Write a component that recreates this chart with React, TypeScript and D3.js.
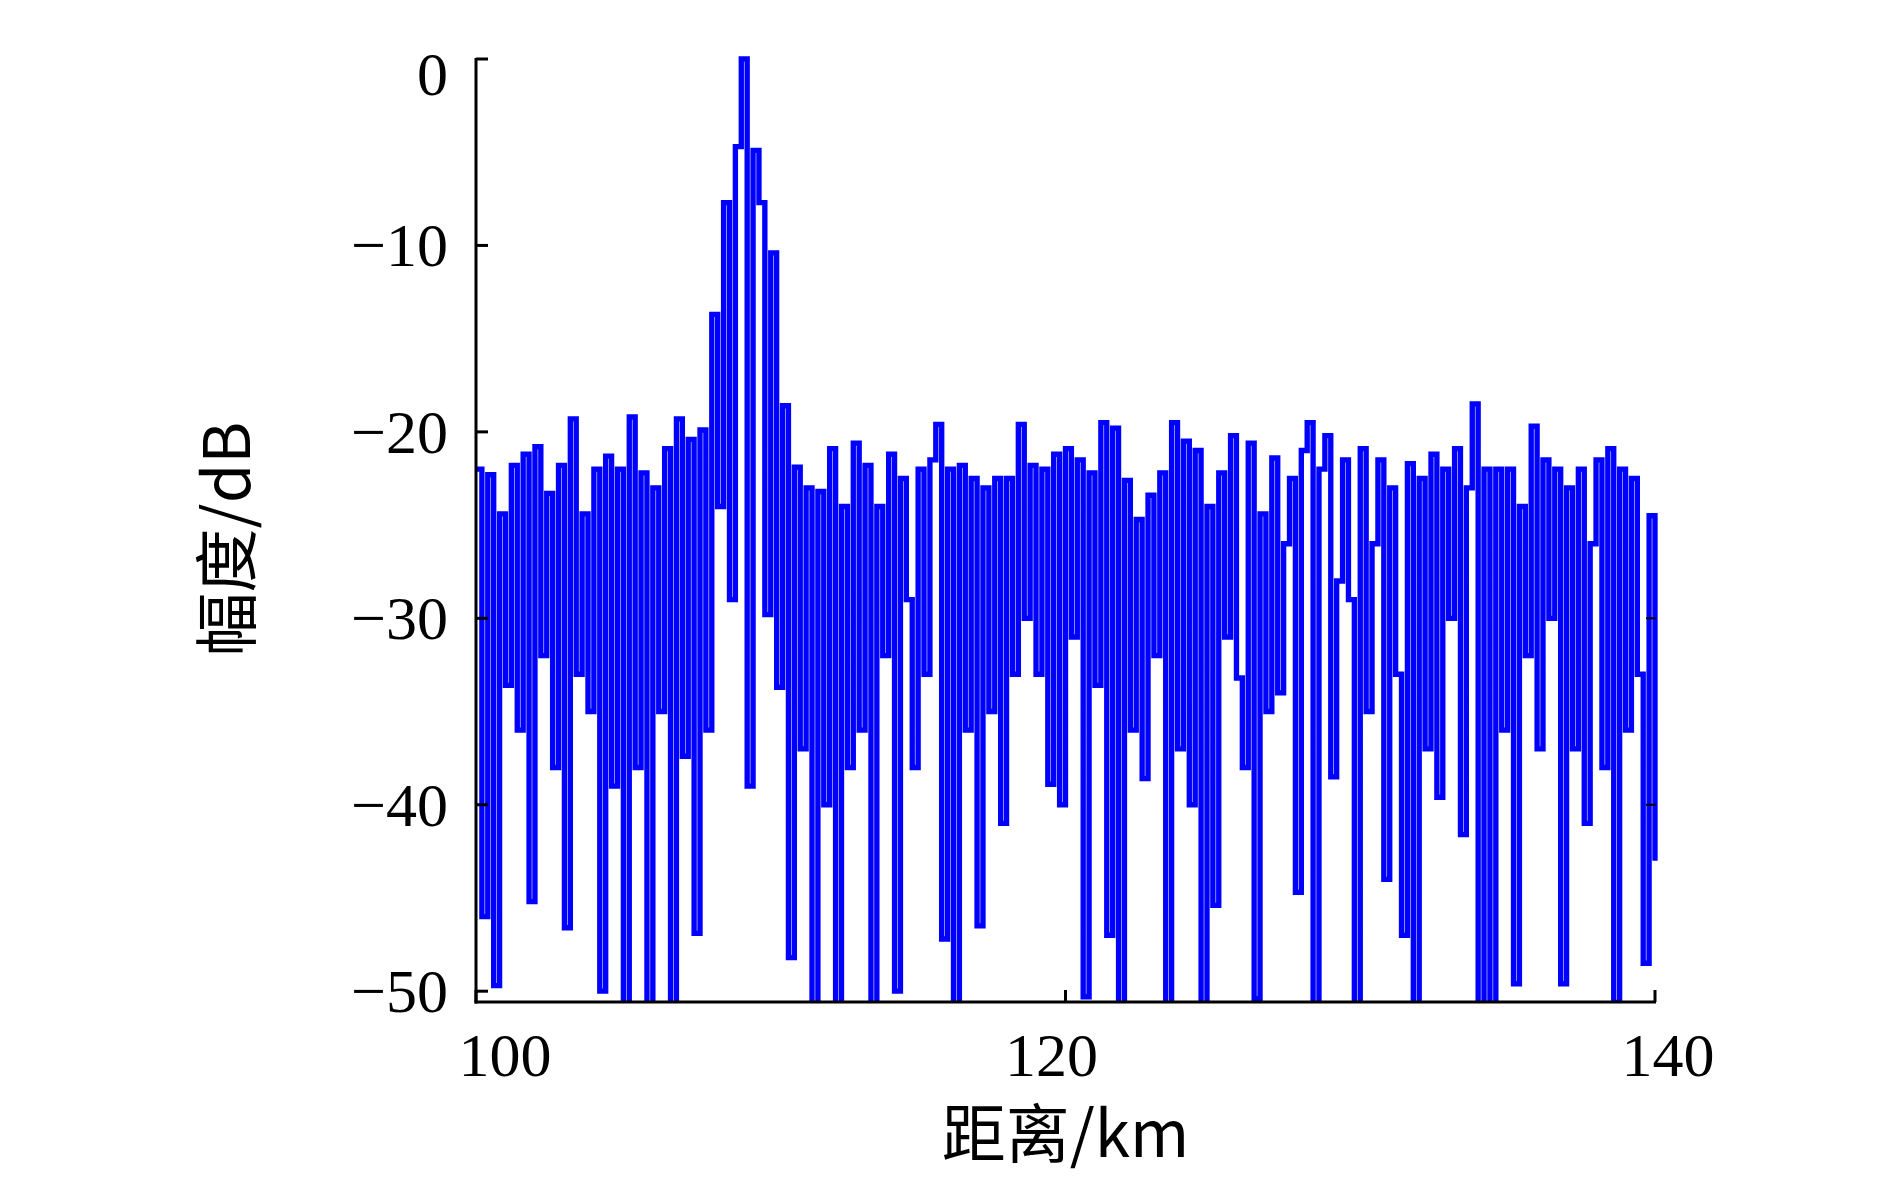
import React from 'react';
import * as d3 from 'd3';

// Distance grid (km): samples every 0.2 km from 100 to 140
const distanceStartKm = 100;
const distanceStepKm = 0.2;

// Amplitude (dB), one value per 0.2 km
const amplitudeDb: number[] = [
  // 100
  -22, -46, -22.3, -49.7, -24.4,
  // 101
  -33.6, -21.8, -36, -21.2, -45.2,
  // 102
  -20.8, -32, -23.3, -38, -21.8,
  // 103
  -46.6, -19.3, -33, -24.4, -35,
  // 104
  -22, -50, -21.3, -39, -22,
  // 105
  -50.8, -19.2, -38, -22.2, -50.8,
  // 106
  -23, -35, -20.9, -50.8, -19.3,
  // 107
  -37.4, -20.4, -46.9, -19.9, -36,
  // 108
  -13.7, -24, -7.7, -29, -4.7,
  // 109
  0, -39, -4.9, -7.7, -29.8,
  // 110
  -10.4, -33.7, -18.6, -48.2, -21.9,
  // 111
  -37, -23, -50.8, -23.2, -40,
  // 112
  -20.9, -50.8, -24, -38, -20.6,
  // 113
  -36, -21.8, -50.8, -24, -32,
  // 114
  -21.2, -50, -22.5, -29, -38,
  // 115
  -22, -33, -21.5, -19.6, -47.2,
  // 116
  -22, -50.8, -21.8, -36, -22.5,
  // 117
  -46.5, -23, -35, -22.5, -41,
  // 118
  -22.5, -33, -19.6, -30, -21.8,
  // 119
  -33, -22, -38.9, -21.2, -40,
  // 120
  -20.9, -31, -21.5, -50.3, -22.2,
  // 121
  -33.6, -19.5, -47, -19.8, -50.8,
  // 122
  -22.6, -36, -24.7, -38.6, -23.4,
  // 123
  -32, -22.2, -50.8, -19.5, -37,
  // 124
  -20.5, -40, -21, -50.8, -24,
  // 125
  -45.4, -22.2, -31, -20.2, -33.2,
  // 126
  -38, -20.6, -50.4, -24.4, -35,
  // 127
  -21.4, -34, -26, -22.5, -44.7,
  // 128
  -21, -19.5, -50.8, -22, -20.2,
  // 129
  -38.5, -28, -21.5, -29, -50.8,
  // 130
  -20.9, -35, -26, -21.5, -44,
  // 131
  -23, -33, -47, -21.7, -50.8,
  // 132
  -22.5, -37, -21.2, -39.6, -22,
  // 133
  -30, -20.9, -41.6, -23, -18.5,
  // 134
  -50.8, -22, -50.8, -22, -36,
  // 135
  -22, -49.6, -24, -32, -19.7,
  // 136
  -37, -21.5, -30, -22, -49.6,
  // 137
  -23, -37, -22, -41, -26,
  // 138
  -21.5, -38, -20.9, -50.6, -22,
  // 139
  -36, -22.5, -33, -48.5, -24.5,
  // 140
  -43,
];

const xTicks = [100, 120, 140];
const yTicks = [0, -10, -20, -30, -40, -50];
const rightTicks = [-30, -40];
const xTickLabelNudge = [29, -14, 13];
const xTitle = '距离/km';
const yTitle = '幅度/dB';

const W = 1890;
const H = 1181;
const PLOT = { left: 476, right: 1655, top: 59, bottom: 1002 };
const Y_MIN = -50.58;

const fmt = (v: number) => (v < 0 ? '\u2212' + Math.abs(v) : String(v));

export default function App() {
  const x = d3.scaleLinear().domain([100, 140]).range([PLOT.left, PLOT.right]);
  const y = d3.scaleLinear().domain([Y_MIN, 0]).range([PLOT.bottom, PLOT.top]);

  const pts: [number, number][] = amplitudeDb.map((v, i) => [
    distanceStartKm + i * distanceStepKm,
    v,
  ]);
  const line = d3
    .line<[number, number]>()
    .x((d) => x(d[0]))
    .y((d) => y(d[1]))
    .curve(d3.curveStepAfter);
  const pathD = line(pts) || '';

  const serif = '"Liberation Serif", "Times New Roman", serif';
  const cjk = '"Noto Sans CJK SC", "Liberation Serif", serif';
  const axisW = 3;
  const tickLen = 12;

  return (
    <svg
      width={W}
      height={H}
      viewBox={`0 0 ${W} ${H}`}
      style={{ position: 'absolute', left: 0, top: 0, background: '#fff' }}
    >
      <defs>
        <clipPath id="plotClip">
          <rect
            x={PLOT.left - 4}
            y={PLOT.top - 10}
            width={PLOT.right - PLOT.left + 8}
            height={PLOT.bottom - PLOT.top + 10}
          />
        </clipPath>
      </defs>
      <rect x={0} y={0} width={W} height={H} fill="#fff" />

      <g clipPath="url(#plotClip)">
        <path
          d={pathD}
          fill="none"
          stroke="#0000ff"
          strokeWidth={5.35}
          strokeLinejoin="miter"
          strokeLinecap="butt"
        />
      </g>

      {/* axes */}
      <line
        x1={PLOT.left}
        x2={PLOT.left}
        y1={PLOT.top - 1}
        y2={PLOT.bottom + axisW / 2}
        stroke="#000"
        strokeWidth={axisW}
      />
      <line
        x1={PLOT.left - axisW / 2}
        x2={PLOT.right + 1}
        y1={PLOT.bottom}
        y2={PLOT.bottom}
        stroke="#000"
        strokeWidth={axisW}
      />
      {yTicks.map((t) => (
        <line
          key={'yt' + t}
          x1={PLOT.left}
          x2={PLOT.left + tickLen}
          y1={y(t)}
          y2={y(t)}
          stroke="#000"
          strokeWidth={axisW}
        />
      ))}
      {rightTicks.map((t) => (
        <line
          key={'rt' + t}
          x1={PLOT.right - 9}
          x2={PLOT.right + 1}
          y1={y(t)}
          y2={y(t)}
          stroke="#000"
          strokeWidth={2}
        />
      ))}
      {xTicks.map((t) => (
        <line
          key={'xt' + t}
          x1={x(t)}
          x2={x(t)}
          y1={PLOT.bottom}
          y2={PLOT.bottom - tickLen}
          stroke="#000"
          strokeWidth={axisW}
        />
      ))}

      {/* tick labels */}
      {yTicks.map((t) => (
        <text
          key={'yl' + t}
          x={448}
          y={Math.max(y(t), 74)}
          textAnchor="end"
          dominantBaseline="central"
          fontFamily={serif}
          fontSize={62}
          fill="#000"
        >
          {fmt(t)}
        </text>
      ))}
      {xTicks.map((t, i) => (
        <text
          key={'xl' + t}
          x={x(t) + xTickLabelNudge[i]}
          y={1076}
          textAnchor="middle"
          fontFamily={serif}
          fontSize={62}
          fill="#000"
        >
          {t}
        </text>
      ))}

      {/* axis titles */}
      <text
        x={x(120)}
        y={1157}
        textAnchor="middle"
        fontFamily={cjk}
        fontSize={64}
        fill="#000"
      >
        {xTitle}
      </text>
      <text
        transform={`translate(250, ${539}) rotate(-90)`}
        textAnchor="middle"
        fontFamily={cjk}
        fontSize={64}
        fill="#000"
      >
        {yTitle}
      </text>
    </svg>
  );
}
